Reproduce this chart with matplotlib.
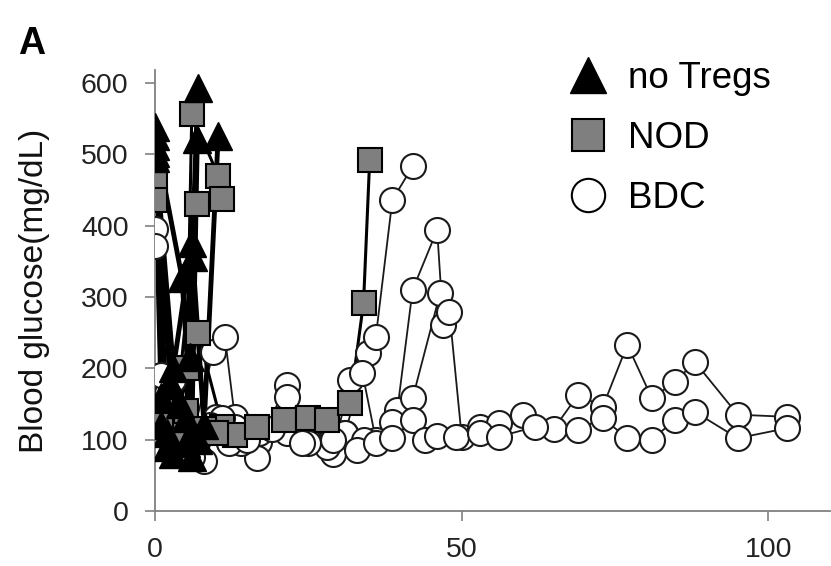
import matplotlib
matplotlib.use("Agg")
import matplotlib.pyplot as plt
from matplotlib.lines import Line2D

plt.rcParams['font.family'] = ['Liberation Sans', 'DejaVu Sans']

# blood glucose (mg/dL) per mouse, days after transfer
# no Tregs
notreg_days = [[0, 2.5, 5, 7],
               [0, 4.4, 6, 6.9],
               [0, 3, 6, 8, 10.3],
               [0, 2, 5.7, 6.2],
               [0, 1, 3, 5, 7],
               [1, 2, 4, 6]]
notreg_vals = [[538, 180, 95, 593],
               [525, 327, 110, 521],
               [512, 200, 376, 120, 525],
               [502, 110, 216, 356],
               [495, 160, 80, 130, 100],
               [120, 90, 150, 75]]

# NOD Tregs
nod_days = [[0, 3, 7, 11, 13, 16.6, 21, 25, 28, 31.8, 34, 35],
            [0, 2, 5.2, 6, 10.3],
            [1, 3, 6.9, 11],
            [1, 3, 5, 8, 10]]
nod_vals = [[461, 110, 250, 118, 107, 118, 128, 130, 128, 151, 292, 492],
            [436, 130, 200, 556, 470],
            [140, 95, 430, 437],
            [120, 100, 140, 115, 110]]

# BDC Tregs
bdc_days = [[0, 3, 6, 9.5, 11.4, 13, 17, 21.5, 25, 29, 31.8, 34.7, 36, 38.7, 42],
            [0, 2, 5, 8, 10, 13, 16.6, 21.5, 25, 28, 31, 33.8, 36, 39.5, 42, 46, 47],
            [1, 4, 7, 11, 14, 17, 21.5, 25, 28, 31, 34, 38.7, 42, 46.5, 48, 50, 53,
             56, 60, 65, 69, 73, 77, 81, 84.8, 88, 95, 103],
            [2, 6, 9, 12, 15, 19, 24, 29, 33, 36, 38.7, 42, 44, 46, 49, 53, 56, 62,
             69, 73, 77, 81, 84.8, 88, 95, 103]]
bdc_vals = [[395, 184, 100, 223, 244, 132, 97, 177, 112, 80, 184, 222, 244, 436, 483],
            [371, 165, 90, 70, 132, 118, 74, 160, 100, 90, 110, 194, 100, 141, 310, 394, 261],
            [190, 130, 100, 130, 95, 110, 109, 95, 125, 110, 100, 125, 158, 306, 279, 104, 118,
             123, 135, 115, 163, 146, 233, 158, 181, 209, 135, 132],
            [150, 75, 120, 95, 100, 115, 95, 100, 85, 95, 102, 128, 100, 105, 104, 110, 104, 118,
             114, 130, 102, 100, 128, 139, 102, 116]]

fig = plt.figure(figsize=(8.31, 5.66), dpi=100)
ax = fig.add_axes([0.1865, 0.0972, 0.812, 0.779])

# connecting lines first, markers on top
for d, v in zip(bdc_days, bdc_vals):
    ax.plot(d, v, color='#1a1a1a', lw=1.3, zorder=1.2)
    ax.plot(d, v, ls='none', marker='o', ms=18, mfc='white', mec='#1a1a1a',
            mew=1.5, zorder=3)
for d, v in zip(nod_days, nod_vals):
    ax.plot(d, v, color='black', lw=2.2, zorder=1.4)
    ax.plot(d, v, ls='none', marker='s', ms=17, mfc='#7f7f7f', mec='black',
            mew=1.5, zorder=4)
for d, v in zip(notreg_days, notreg_vals):
    ax.plot(d, v, color='black', lw=3.5, zorder=1.6)
    ax.plot(d, v, ls='none', marker='^', ms=20, mfc='black', mec='black',
            zorder=5)

ax.set_xlim(0, 110)
ax.set_ylim(0, 618)
ax.set_xticks([0, 50, 100])
ax.set_yticks(range(0, 601, 100))

for s in ['top', 'right']:
    ax.spines[s].set_visible(False)
for s in ['left', 'bottom']:
    ax.spines[s].set_color('#808080')
    ax.spines[s].set_linewidth(1.3)
ax.tick_params(length=7, width=1.2, color='#808080', labelsize=20.5,
               labelcolor='#222222', pad=12)
ax.set_ylabel('Blood glucose(mg/dL)', fontsize=24, color='#111111', labelpad=22)

handles = [Line2D([], [], ls='none', marker='^', ms=26, mfc='black', mec='black'),
           Line2D([], [], ls='none', marker='s', ms=23, mfc='#7f7f7f', mec='black', mew=1.5),
           Line2D([], [], ls='none', marker='o', ms=24, mfc='white', mec='black', mew=1.5)]
fig.legend(handles, ['no Tregs', 'NOD', 'BDC'], loc='upper left',
           bbox_to_anchor=(0.686, 0.892), frameon=False, fontsize=26.5,
           handlelength=0.95, handletextpad=0.62, labelspacing=0.68,
           borderpad=0, borderaxespad=0)

fig.text(0.022, 0.905, 'A', fontsize=27, fontweight='bold')

fig.savefig('out.png', dpi=100)
